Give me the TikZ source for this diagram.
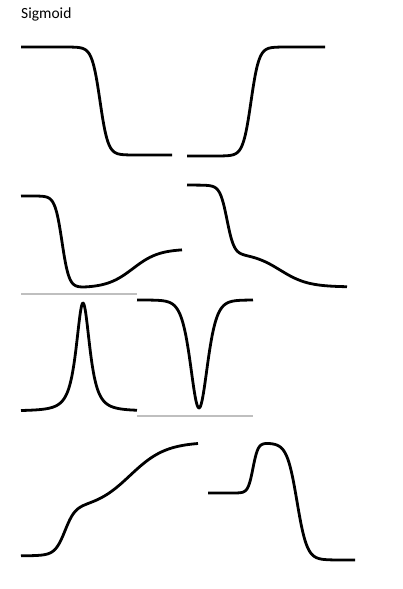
\documentclass[tikz,border=0pt]{standalone}
\usepackage{fontspec}
\setmainfont{Carlito}
\begin{document}
\begin{tikzpicture}[x=1pt,y=-1pt,
  curve/.style={line width=2.8pt,line join=round},
  baseline/.style={line width=1.3pt,color=black!25},
  declare function={sig(\u)=1/(1+exp(-max(-9,min(9,\u))));}]
\useasboundingbox (0,0) rectangle (402,589);
%title
\node[anchor=base west,inner sep=0pt,font=\fontsize{15.5}{18}\selectfont] (title) at (21,18) {Sigmoid};
%row 1: falling and rising step
\draw[curve] plot[domain=21:172,samples=200] (\x,{47+108*sig((\x-100)/4)});
\draw[curve] plot[domain=187:325,samples=200] (\x,{156-109*sig((\x-251)/4)});
%row 2: step with recovery, two-stage fall
\draw[curve] plot[domain=21:182,samples=200] (\x,{196+92*sig((\x-62)/3.5)-39*sig((\x-133)/13)});
\draw[curve] plot[domain=187:347,samples=200] (\x,{185+68*sig((\x-227)/3.5)+34*sig((\x-280)/14)});
%row 3: peak and dip
\draw[baseline] (21,294) -- (137,294);
\draw[curve] plot[domain=21:137,samples=200] (\x,{411-108*(1+((\x-83)/10.5)^2)^(-1.5)});
\draw[baseline] (137,416) -- (253,416);
\draw[curve] plot[domain=137:253,samples=200] (\x,{300+108/(cosh((\x-199)/11.4)^2)});
%row 4: two-stage rise, bump then fall
\draw[curve] plot[domain=21:198,samples=200] (\x,{556-47*sig((\x-65)/5)-67*sig((\x-130)/18)});
\draw[curve] plot[domain=208:355,samples=200] (\x,{493-50*sig((\x-253)/2.5)+117*sig((\x-297)/5)});
\end{tikzpicture}
\end{document}
